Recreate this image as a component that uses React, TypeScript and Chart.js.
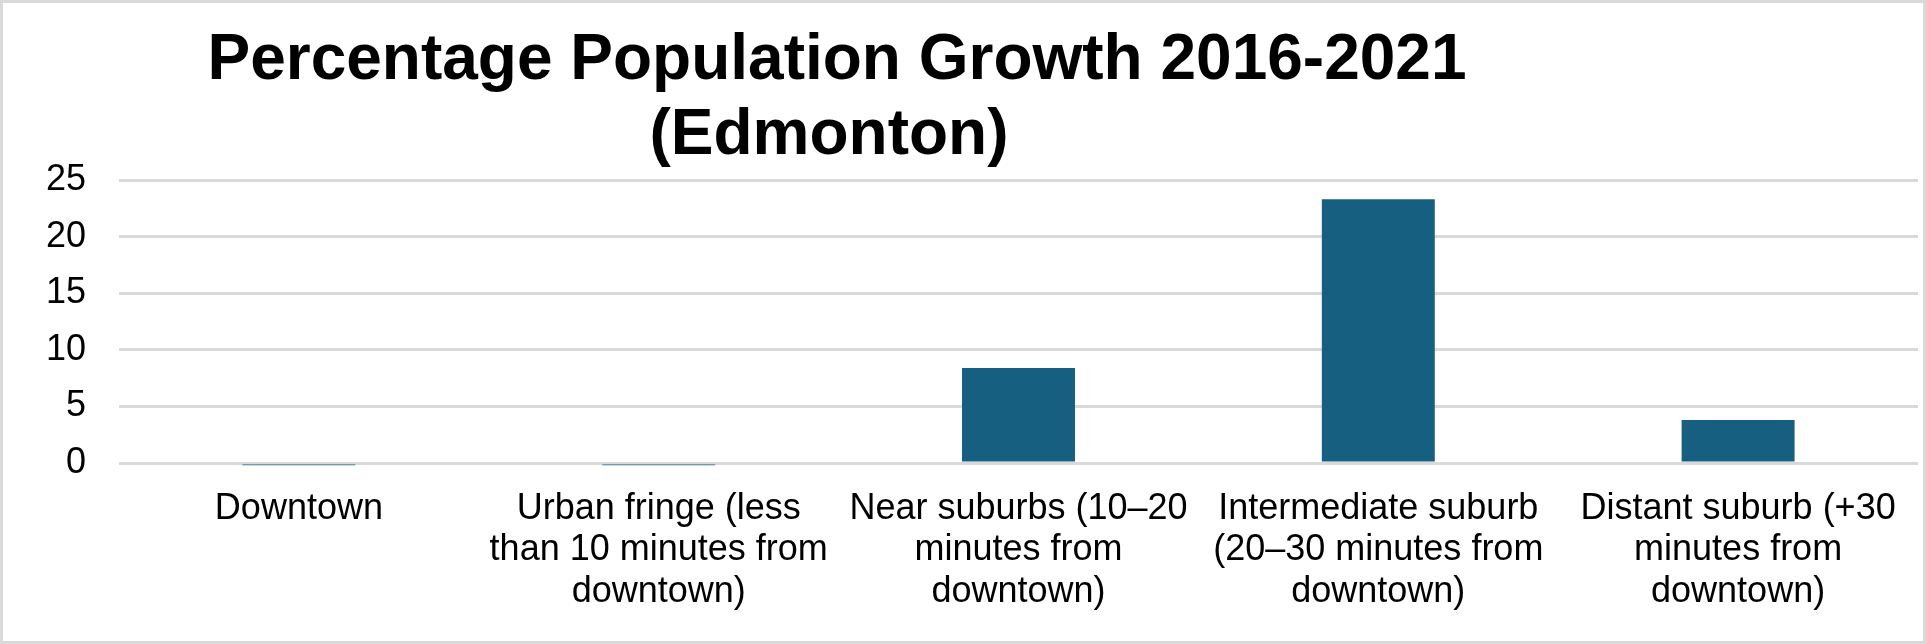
import React, { useEffect, useRef } from "react";
import { Chart, registerables } from "chart.js";

Chart.register(...registerables);

const TITLE_LINES: string[] = ["Percentage Population Growth 2016-2021", "(Edmonton)"];

const CATEGORIES: string[][] = [
  ["Downtown"],
  ["Urban fringe (less", "than 10 minutes from", "downtown)"],
  ["Near suburbs (10\u201320", "minutes from", "downtown)"],
  ["Intermediate suburb", "(20\u201330 minutes from", "downtown)"],
  ["Distant suburb (+30", "minutes from", "downtown)"],
];

const GROWTH: number[] = [-0.2, -0.2, 8.4, 23.3, 3.8];

const Y_MIN = 0;
const Y_MAX = 25;
const Y_STEP = 5;

const FONT_FAMILY = '"Liberation Sans", Arial, sans-serif';

export default function App() {
  const ref = useRef<HTMLCanvasElement | null>(null);

  useEffect(() => {
    document.body.style.margin = "0";
    const canvas = ref.current;
    if (!canvas) return;

    const titlePlugin = {
      id: "manualTitle",
      afterDraw(chart: any) {
        const ctx = chart.ctx;
        ctx.save();
        ctx.font = `bold 64px ${FONT_FAMILY}`;
        ctx.fillStyle = "#000000";
        ctx.textAlign = "center";
        ctx.textBaseline = "alphabetic";
        ctx.fillText(TITLE_LINES[0], 837, 79);
        ctx.fillText(TITLE_LINES[1], 829, 154);
        ctx.restore();
      },
    };

    const chart = new Chart(canvas, {
      type: "bar",
      data: {
        labels: CATEGORIES,
        datasets: [
          {
            data: GROWTH,
            backgroundColor: "#175F80",
            borderWidth: 0,
            categoryPercentage: 1,
            barPercentage: 0.314,
            clip: false as any,
          },
        ],
      },
      options: {
        animation: false,
        responsive: false,
        layout: { padding: { top: 180, right: 8, bottom: 0, left: 0 } },
        plugins: {
          legend: { display: false },
          title: { display: false },
          tooltip: { enabled: false },
        },
        scales: {
          x: {
            grid: { display: false },
            border: { display: false },
            ticks: {
              color: "#000000",
              font: { family: FONT_FAMILY, size: 36, lineHeight: 1.14 },
              padding: 18,
              maxRotation: 0,
              minRotation: 0,
              autoSkip: false,
            },
            afterFit(axis: any) {
              axis.height = 181;
            },
          },
          y: {
            min: Y_MIN,
            max: Y_MAX,
            ticks: {
              stepSize: Y_STEP,
              padding: 33,
              color: "#000000",
              font: { family: FONT_FAMILY, size: 36 },
            },
            grid: { color: "#d9d9d9", lineWidth: 3, drawTicks: false },
            border: { display: false },
            afterFit(axis: any) {
              axis.width = 119;
            },
          },
        },
      },
      plugins: [titlePlugin],
    });

    return () => chart.destroy();
  }, []);

  return (
    <div style={{ position: "relative", width: 1926, height: 644, background: "#ffffff" }}>
      <canvas
        ref={ref}
        width={1926}
        height={644}
        style={{ display: "block", width: 1926, height: 644 }}
      />
      <div
        style={{
          position: "absolute",
          inset: 0,
          border: "3px solid #d9d9d9",
          pointerEvents: "none",
        }}
      />
    </div>
  );
}
